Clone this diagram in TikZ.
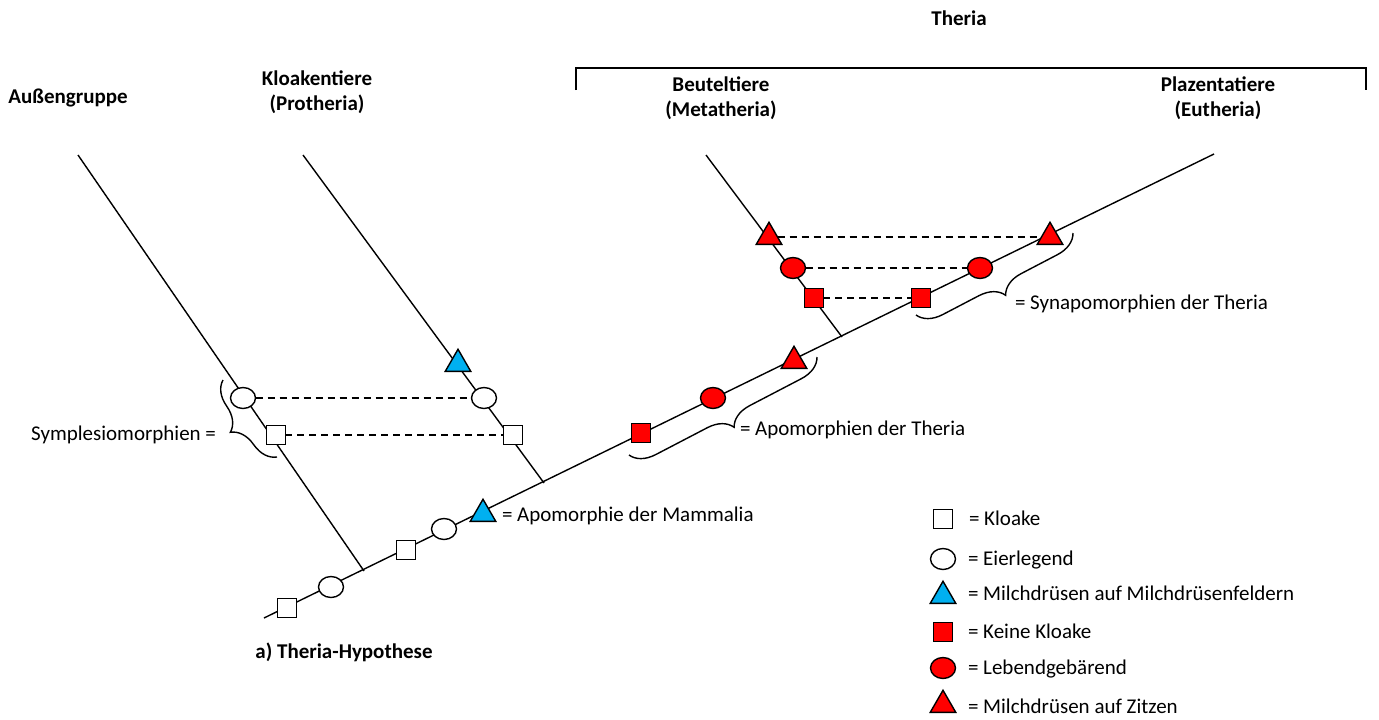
\documentclass[tikz,border=0pt]{standalone}
\usepackage{fontspec}
\setmainfont{Carlito}
\usetikzlibrary{shapes.geometric,decorations.pathreplacing}
\definecolor{mamblue}{HTML}{00B0F0}
\definecolor{therred}{HTML}{FF0000}

\begin{document}
\begin{tikzpicture}[x=1pt,y=-1pt,
  branch/.style={line width=1.4pt,line cap=butt},
  trait/.style={draw=black,line width=1.4pt,inner sep=0pt,outer sep=0pt},
  sq/.style={trait,rectangle,minimum size=18.8pt},
  ov/.style={trait,ellipse,minimum width=25pt,minimum height=21pt},
  tri/.style={trait,regular polygon,regular polygon sides=3,minimum size=29.5pt},
  old/.style={fill=white},
  mam/.style={fill=mamblue},
  ther/.style={fill=therred},
  link/.style={line width=1.4pt,dash pattern=on 7pt off 5pt},
  curly/.style={line width=1.4pt,decorate,decoration={brace,amplitude=24pt,aspect=0.5}},
  txt/.style={inner sep=0pt,outer sep=0pt,font=\fontsize{21}{25}\selectfont},
  head/.style={txt,font=\fontsize{21}{25}\selectfont\bfseries},
]
% canvas
\fill[white] (0,0) rectangle (1379,720);
\useasboundingbox (0,0) rectangle (1379,720);

% clade labels
\node[head,anchor=base] (theria) at (959,25) {Theria};
\node[head,anchor=base] (out) at (68,103) {Außengruppe};
\node[head,anchor=base] (pro1) at (317,85) {Kloakentiere};
\node[head,anchor=base] (pro2) at (317,110) {(Protheria)};
\node[head,anchor=base] (met1) at (721,91) {Beuteltiere};
\node[head,anchor=base] (met2) at (721,116) {(Metatheria)};
\node[head,anchor=base] (eu1) at (1218,91) {Plazentatiere};
\node[head,anchor=base] (eu2) at (1218,116) {(Eutheria)};
\node[head,anchor=base] (caption) at (344,658) {a) Theria-Hypothese};

% bracket over the Theria
\coordinate (brl) at (576,90);
\coordinate (brr) at (1366,90);
\draw[branch] (brl) -- (brl |- 0,68) -- (brr |- 0,68) -- (brr);

% tree
\coordinate (root) at (264,618);
\coordinate (tipEu) at (1214,154);
\coordinate (tipOut) at (78,155);
\coordinate (jOut) at (364,571);
\coordinate (tipPro) at (303,155);
\coordinate (jPro) at (544,483);
\coordinate (tipMet) at (706,155);
\coordinate (jMet) at (842,337);
\draw[branch] (root) -- (tipEu);
\draw[branch] (tipOut) -- (jOut);
\draw[branch] (tipPro) -- (jPro);
\draw[branch] (tipMet) -- (jMet);

% characters on the outgroup branch
\node[ov,old] (outE) at (243,398) {};
\node[sq,old] (outK) at (276,435) {};
% characters on the Protheria branch
\node[tri,mam] (proM) at (458,364) {};
\node[ov,old] (proE) at (484,398) {};
\node[sq,old] (proK) at (513,435) {};
% characters on the stem
\node[sq,old] (stK1) at (287,608) {};
\node[ov,old] (stE1) at (331,587) {};
\node[sq,old] (stK2) at (406,550) {};
\node[ov,old] (stE2) at (444,529) {};
\node[tri,mam] (stM) at (483,514) {};
\node[sq,ther] (thK) at (641,433) {};
\node[ov,ther] (thL) at (713,398) {};
\node[tri,ther] (thZ) at (794,361) {};
% characters on the Metatheria branch
\node[tri,ther] (metZ) at (769,237) {};
\node[ov,ther] (metL) at (793,268) {};
\node[sq,ther] (metK) at (814,298) {};
% characters on the Eutheria branch
\node[tri,ther] (euZ) at (1050,237) {};
\node[ov,ther] (euL) at (980,268) {};
\node[sq,ther] (euK) at (921,298) {};

% shared characters
\draw[link] (outE) -- (proE);
\draw[link] (outK) -- (proK);
\draw[link] (metZ) -- (euZ);
\draw[link] (metL) -- (euL);
\draw[link] (metK) -- (euK);

% braces and their labels
\coordinate (b1a) at (277,457);
\coordinate (b1b) at (223,380);
\coordinate (b2a) at (817,357);
\coordinate (b2b) at (629,455);
\coordinate (b3a) at (1073,233);
\coordinate (b3b) at (916,315);
\draw[curly] (b1a) -- (b1b);
\draw[curly] (b2a) -- (b2b);
\draw[curly] (b3a) -- (b3b);
\node[txt,anchor=base east] (plesio) at (216,440) {Symplesiomorphien =};
\node[txt,anchor=base west] (mamapo) at (502,521) {= Apomorphie der Mammalia};
\node[txt,anchor=base west] (therapo) at (740,435) {= Apomorphien der Theria};
\node[txt,anchor=base west] (thersyn) at (1015,309) {= Synapomorphien der Theria};

% key
\node[sq,old] (kK) at (943,519) {};
\node[ov,old] (kE) at (943,559) {};
\node[tri,mam] (kM) at (943,596) {};
\node[sq,ther] (kNK) at (943,632) {};
\node[ov,ther] (kL) at (943,668) {};
\node[tri,ther] (kZ) at (943,705) {};
\node[txt,anchor=base west] (kKt) at (969,525) {= Kloake};
\node[txt,anchor=base west] (kEt) at (968,565) {= Eierlegend};
\node[txt,anchor=base west] (kMt) at (968,600) {= Milchdrüsen auf Milchdrüsenfeldern};
\node[txt,anchor=base west] (kNKt) at (968,638) {= Keine Kloake};
\node[txt,anchor=base west] (kLt) at (968,674) {= Lebendgebärend};
\node[txt,anchor=base west] (kZt) at (968,713) {= Milchdrüsen auf Zitzen};
\end{tikzpicture}
\end{document}
